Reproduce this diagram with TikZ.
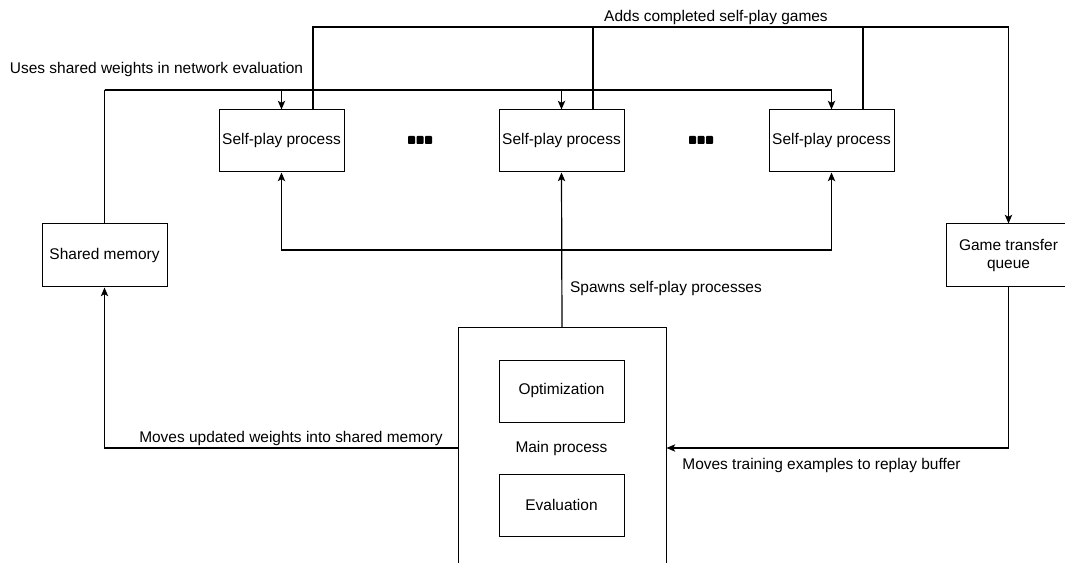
\documentclass[tikz,border=0pt]{standalone}
\usepackage{fontspec}
\setmainfont{Liberation Sans}
\usetikzlibrary{arrows.meta,calc}
\begin{document}
\begin{tikzpicture}[x=0.75pt,y=-0.75pt,
  every node/.style={font=\fontsize{11.6}{13.6}\selectfont},
  box/.style={draw, line width=0.75pt, minimum width=93.75pt, minimum height=46.5pt, inner sep=0pt, align=center},
  conn/.style={line width=0.9pt},
  arr/.style={conn, -{Stealth[length=6.5pt,width=5.5pt,inset=1.5pt]}},
  lbl/.style={anchor=base, inner sep=0pt},
  dot/.style={fill=black, draw=none}]
\useasboundingbox (0,0) rectangle (1065,563);
\clip (0,0) rectangle (1065,563);
\fill[white] (0,0) rectangle (1065,563);

% self-play boxes
\node[box] (sp1) at (281.5,141) {Self-play process};
\node[box] (sp2) at (561.5,141) {Self-play process};
\node[box] (sp3) at (831.5,141) {Self-play process};
% side boxes
\node[box, minimum height=47.25pt] (shm) at (104.5,255.5) {Shared memory};
\node[box, minimum height=47.25pt] (gtq) at (1008.5,255.5) {Game transfer\\queue};
% main process
\node[draw, line width=0.75pt, minimum width=156pt, minimum height=180pt, inner sep=0pt] (main) at (562,448) {};
\node[box] (opt) at (561.5,391) {Optimization};
\node[box] (eval) at (561.5,505) {Evaluation};
\node[inner sep=0pt] (mainlbl) at (561.5,449) {Main process};

% dots
\foreach \x in {408,416.5,425} {
  \fill[dot, rounded corners=0.6pt] (\x,136) rectangle ++(7,8);
}
\foreach \x in {689,697.5,706} {
  \fill[dot, rounded corners=0.6pt] (\x,136) rectangle ++(7,8);
}

% shared weights
\coordinate (u) at (104.5,90);
\draw[conn] (shm.north) -- (u);
\draw[arr] (u) -| (sp1.north);
\draw[arr] (u) -| (sp2.north);
\draw[arr] (u) -| (sp3.north);
\node[lbl] (ulbl) at (156.5,74) {Uses shared weights in network evaluation};

% completed games
\coordinate (a) at (1008.5,27);
\draw[conn] ($(sp1.north west)!0.75!(sp1.north east)$) |- (a);
\draw[conn] ($(sp2.north west)!0.75!(sp2.north east)$) |- (a);
\draw[conn] ($(sp3.north west)!0.75!(sp3.north east)$) |- (a);
\draw[arr] (a) -- (gtq.north);
\node[lbl] (alb) at (716,22) {Adds completed self-play games};

% spawns
\coordinate (s) at (561.5,250);
\draw[arr] (main.north) -- (sp2.south);
\draw[arr] (s) -| (sp1.south);
\draw[arr] (s) -| (sp3.south);
\node[lbl] (slbl) at (666,293) {Spawns self-play processes};

% moves weights
\draw[arr] (main.west) -| (shm.south);
\node[lbl, fill=white, inner ysep=1pt] (wlbl) at (291,442) {Moves updated weights into shared memory};

% moves training examples
\draw[arr] (gtq.south) |- (main.east);
\node[lbl] (tlbl) at (821.5,469) {Moves training examples to replay buffer};
\end{tikzpicture}
\end{document}
